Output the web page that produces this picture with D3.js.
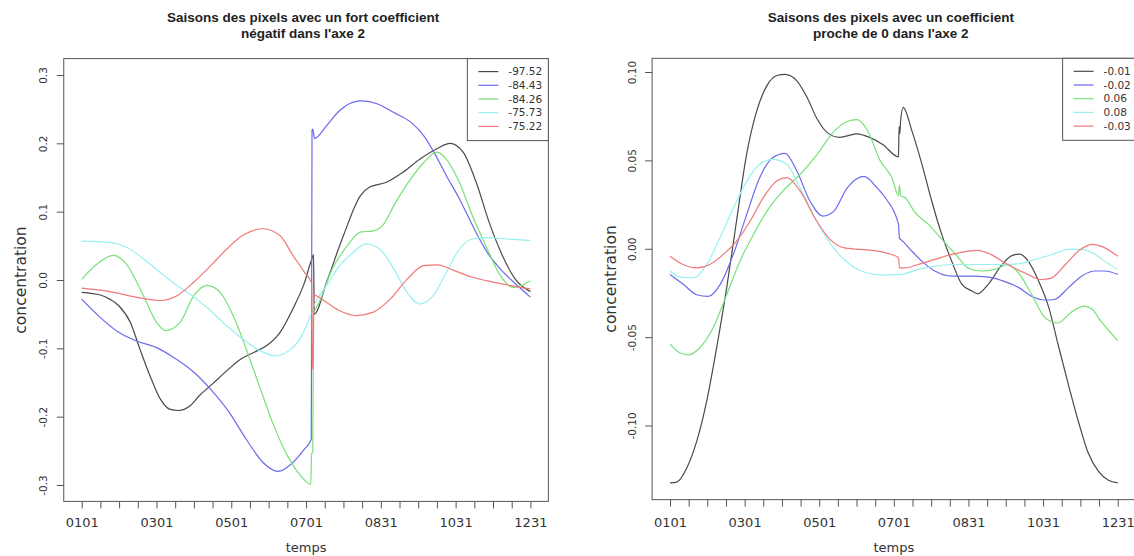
<!DOCTYPE html>
<html>
<head>
<meta charset="utf-8">
<script src="https://cdn.jsdelivr.net/npm/d3@7"></script>
<style>
  html, body { margin: 0; padding: 0; background: #fff; }
  svg { display: block; }
  text { font-family: "DejaVu Sans", sans-serif; fill: #333; }
</style>
</head>
<body>
<svg id="chart" width="1134" height="556"></svg>
<script>
// Time axis: 25 ticks (index 0..24), labelled every fourth tick
const tickIndex = d3.range(0, 25);
const tickLabels = ["0101", "0301", "0501", "0701", "0831", "1031", "1231"];

// Panel 1: pixels with a strong negative coefficient on axis 2  [tick index, concentration]
const neg97_52 = [[0,-0.018],[1,-0.022],[1.5,-0.028],[2,-0.038],[2.6,-0.062],[3.1,-0.10],[3.65,-0.14],[4.2,-0.174],[4.7,-0.189],[5.17,-0.191],[5.8,-0.184],[6.3,-0.169],[7.0,-0.152],[7.75,-0.133],[8.5,-0.116],[9.2,-0.106],[9.9,-0.096],[10.6,-0.077],[11.3,-0.042],[11.9,-0.005],[12.3,0.030],[12.4,0.037],[12.44,-0.050],[13.1,-0.003],[14.0,0.065],[14.9,0.123],[15.4,0.136],[16.3,0.143],[17.2,0.158],[18.1,0.177],[19.0,0.192],[19.7,0.200],[20.4,0.187],[21.1,0.143],[21.8,0.084],[22.5,0.036],[23.2,0.001],[24,-0.017]];
const neg84_43 = [[0,-0.028],[1,-0.055],[2,-0.077],[2.9,-0.089],[4,-0.099],[4.9,-0.113],[6,-0.135],[6.9,-0.160],[7.9,-0.194],[8.8,-0.233],[9.7,-0.267],[10.5,-0.280],[11.3,-0.267],[11.9,-0.248],[12.28,-0.233],[12.32,0.219],[12.36,0.221],[12.45,0.207],[13.1,0.226],[13.8,0.248],[14.5,0.260],[15.0,0.262],[15.8,0.258],[16.7,0.245],[17.6,0.231],[18.3,0.211],[18.8,0.189],[19.5,0.153],[20.2,0.119],[20.9,0.080],[21.7,0.040],[22.4,0.016],[23.1,-0.003],[24,-0.025]];
const neg84_26 = [[0,0.001],[0.8,0.023],[1.7,0.036],[2.4,0.023],[3.3,-0.023],[4,-0.062],[4.5,-0.074],[5.26,-0.062],[6,-0.023],[6.7,-0.008],[7.4,-0.018],[8.1,-0.052],[8.8,-0.101],[9.5,-0.155],[10.2,-0.208],[11,-0.257],[11.7,-0.286],[12.25,-0.299],[12.3,-0.255],[12.36,-0.25],[12.4,-0.05],[12.7,-0.033],[13.4,0.016],[14.2,0.050],[14.9,0.070],[15.6,0.072],[16.1,0.080],[16.8,0.114],[17.6,0.148],[18.3,0.172],[19.0,0.187],[19.5,0.177],[20.2,0.143],[20.9,0.094],[21.7,0.045],[22.4,0.006],[23.1,-0.011],[24,-0.001]];
const neg75_73 = [[0,0.057],[1.5,0.055],[2.4,0.048],[3.3,0.031],[4.2,0.011],[5.1,-0.008],[6,-0.025],[6.9,-0.045],[7.75,-0.067],[8.6,-0.086],[9.5,-0.103],[10.4,-0.111],[11.1,-0.103],[11.7,-0.085],[12.2,-0.055],[12.5,-0.033],[13.1,-0.008],[13.8,0.021],[14.5,0.040],[15.2,0.053],[15.95,0.045],[16.7,0.016],[17.4,-0.018],[18.1,-0.035],[18.8,-0.023],[19.5,0.011],[20.2,0.045],[20.9,0.060],[21.7,0.062],[22.7,0.060],[24,0.058]];
const neg75_22 = [[0,-0.012],[1.5,-0.017],[2.9,-0.025],[4.2,-0.030],[5.1,-0.023],[6,-0.003],[6.9,0.021],[7.75,0.045],[8.6,0.065],[9.7,0.075],[10.6,0.065],[11.3,0.036],[11.9,0.012],[12.3,-0.005],[12.34,-0.130],[12.38,-0.130],[12.42,-0.022],[13.1,-0.033],[13.8,-0.045],[14.7,-0.052],[15.6,-0.047],[16.5,-0.028],[17.4,0.001],[18.3,0.021],[19.0,0.022],[19.9,0.014],[20.9,0.004],[22.0,-0.003],[23.1,-0.009],[24,-0.013]];

// Panel 2: pixels with a coefficient close to 0 on axis 2
const near_m001 = [[0,-0.1325],[0.36,-0.132],[0.9,-0.124],[1.43,-0.109],[1.97,-0.086],[2.5,-0.056],[3.04,-0.022],[3.57,0.016],[4.1,0.053],[4.65,0.078],[5.18,0.092],[5.72,0.098],[6.17,0.0987],[6.8,0.095],[7.33,0.086],[7.86,0.074],[8.4,0.066],[9.1,0.063],[10.0,0.065],[10.7,0.063],[11.4,0.059],[12.25,0.052],[12.28,0.069],[12.32,0.065],[12.36,0.072],[12.5,0.080],[12.96,0.067],[13.5,0.048],[14.03,0.027],[14.57,0.008],[15.1,-0.007],[15.64,-0.020],[16.2,-0.024],[16.5,-0.0255],[17.07,-0.020],[17.8,-0.009],[18.3,-0.004],[18.77,-0.003],[19.2,-0.007],[19.75,-0.018],[20.3,-0.033],[20.8,-0.054],[21.36,-0.077],[21.9,-0.098],[22.4,-0.115],[22.97,-0.126],[23.5,-0.131],[24,-0.1325]];
const near_m002 = [[0,-0.0145],[0.7,-0.020],[1.43,-0.026],[2.05,-0.027],[2.7,-0.020],[3.4,-0.003],[4.1,0.019],[4.8,0.040],[5.5,0.0515],[6.17,0.054],[6.8,0.044],[7.5,0.027],[8.2,0.0185],[8.76,0.021],[9.5,0.0345],[10.4,0.041],[11.1,0.0345],[11.6,0.028],[12.25,0.0138],[12.3,0.006],[12.4,0.005],[12.5,0.004],[12.96,-0.0013],[13.5,-0.007],[14.2,-0.0126],[15.1,-0.0155],[16.2,-0.0155],[17.07,-0.016],[17.8,-0.018],[18.7,-0.022],[19.4,-0.027],[20.1,-0.029],[20.6,-0.0287],[21.36,-0.022],[22.06,-0.0155],[22.8,-0.0126],[23.3,-0.0126],[24,-0.0145]];
const near_006 = [[0,-0.054],[0.54,-0.059],[1.0,-0.060],[1.6,-0.056],[2.3,-0.045],[3.04,-0.026],[3.75,-0.007],[4.47,0.008],[5.18,0.021],[6.08,0.033],[6.97,0.042],[7.86,0.053],[8.76,0.066],[9.5,0.072],[10.0,0.073],[10.55,0.0676],[11.26,0.050],[11.9,0.040],[12.25,0.030],[12.3,0.036],[12.36,0.030],[12.6,0.029],[13.1,0.021],[13.85,0.0138],[14.57,0.0053],[15.3,-0.003],[16.0,-0.011],[16.7,-0.0126],[17.4,-0.0117],[18.1,-0.009],[18.6,-0.0126],[19.4,-0.026],[20.1,-0.039],[20.8,-0.042],[21.5,-0.036],[22.2,-0.0325],[22.6,-0.034],[23.1,-0.041],[24,-0.052]];
const near_008 = [[0,-0.0126],[0.54,-0.016],[1.25,-0.0164],[1.97,-0.0089],[2.68,0.0062],[3.4,0.023],[4.1,0.038],[4.8,0.0478],[5.5,0.0506],[6.26,0.0478],[6.97,0.0345],[7.86,0.0157],[8.76,0.0006],[9.65,-0.0089],[10.55,-0.0136],[11.4,-0.0149],[12.4,-0.0145],[13.3,-0.0117],[14.2,-0.0098],[15.1,-0.0089],[16.0,-0.0089],[16.9,-0.0089],[17.8,-0.0089],[18.7,-0.0085],[19.6,-0.006],[20.5,-0.0032],[21.36,-0.0004],[22.06,-0.0004],[22.8,-0.0032],[23.3,-0.007],[24,-0.0117]];
const near_m003 = [[0,-0.0042],[0.7,-0.0089],[1.43,-0.0108],[2.14,-0.0089],[2.86,-0.0032],[3.57,0.0043],[4.3,0.0157],[5.0,0.0289],[5.72,0.0383],[6.26,0.0402],[6.97,0.0327],[7.86,0.0157],[8.58,0.0053],[9.3,0.0006],[10.2,-0.0004],[11.1,-0.0013],[11.8,-0.003],[12.25,-0.0051],[12.3,-0.0108],[12.6,-0.0108],[13.3,-0.0089],[14.2,-0.006],[15.1,-0.0032],[16.0,-0.0013],[16.5,-0.0009],[17.2,-0.0032],[18.1,-0.0089],[19.0,-0.0136],[19.9,-0.0174],[20.4,-0.0168],[21.2,-0.0089],[21.9,-0.0013],[22.6,0.0025],[23.1,0.0015],[24,-0.0042]];

const legendLeft = ["-97.52", "-84.43", "-84.26", "-75.73", "-75.22"];
const legendRight = ["-0.01", "-0.02", "0.06", "0.08", "-0.03"];
const yTicksLeft = [-0.3, -0.2, -0.1, 0.0, 0.1, 0.2, 0.3];
const yTicksRight = [-0.10, -0.05, 0.00, 0.05, 0.10];
const seriesColors = ["#4a4a4a", "#6a6aee", "#78e078", "#98f0f0", "#f07878"];

const svg = d3.select("#chart");
const axisColor = "#555";

function drawPanel(cfg) {
  const g = svg.append("g");
  const x = d3.scaleLinear().domain([0, 24]).range(cfg.xRange);
  const y = d3.scaleLinear().domain(cfg.yDomain).range(cfg.yRange);

  // plot frame (4% extension of the data region on each side)
  const xPad = 0.04 * 24;
  const yPad = 0.04 * (cfg.yLim[1] - cfg.yLim[0]);
  const bx0 = x(-xPad), bx1 = x(24 + xPad);
  const by0 = y(cfg.yLim[1] + yPad), by1 = y(cfg.yLim[0] - yPad);

  // series
  const line = d3.line()
    .x(d => x(d[0]))
    .y(d => y(d[1]))
    .curve(d3.curveMonotoneX);
  cfg.series.forEach((s, k) => {
    g.append("path")
      .attr("d", line(s))
      .attr("fill", "none")
      .attr("stroke", seriesColors[k])
      .attr("stroke-width", 1.2)
      .attr("stroke-linejoin", "round");
  });

  g.append("rect")
    .attr("x", bx0).attr("y", by0)
    .attr("width", bx1 - bx0).attr("height", by1 - by0)
    .attr("fill", "none").attr("stroke", axisColor).attr("stroke-width", 1);

  // x axis
  const xAxis = d3.axisBottom(x)
    .tickValues(tickIndex)
    .tickSize(7)
    .tickFormat(i => (i % 4 === 0 ? tickLabels[i / 4] : ""));
  const gx = g.append("g").attr("transform", `translate(0,${by1})`).call(xAxis);
  gx.select(".domain").remove();
  gx.selectAll(".tick line").attr("stroke", axisColor);
  gx.selectAll(".tick text")
    .attr("fill", "#333")
    .style("font-family", '"DejaVu Sans", sans-serif')
    .style("font-size", "13px")
    .attr("y", 0).attr("dy", 0)
    .attr("transform", `translate(0,${cfg.xLabelBase - by1})`);

  // y axis
  const yAxis = d3.axisLeft(y)
    .tickValues(cfg.yTicks)
    .tickSize(7)
    .tickFormat(v => v.toFixed(cfg.yDigits));
  const gy = g.append("g").attr("transform", `translate(${bx0},0)`).call(yAxis);
  gy.select(".domain").remove();
  gy.selectAll(".tick line").attr("stroke", axisColor);
  gy.selectAll(".tick text")
    .attr("fill", "#333")
    .style("font-family", '"DejaVu Sans", sans-serif')
    .style("font-size", "10.5px")
    .attr("x", 0).attr("dy", 0)
    .attr("text-anchor", "middle")
    .attr("transform", `translate(${cfg.yLabelX - bx0},0) rotate(-90) translate(0,4)`);

  // axis titles
  g.append("text")
    .attr("x", x(12))
    .attr("y", 552)
    .attr("text-anchor", "middle")
    .style("font-size", "13px")
    .text("temps");
  g.append("text")
    .attr("transform", `translate(${cfg.yTitleX},${(by0 + by1) / 2}) rotate(-90)`)
    .attr("dy", "0.35em")
    .attr("text-anchor", "middle")
    .style("font-size", "15.5px")
    .text("concentration");

  // title
  const title = g.append("text")
    .attr("text-anchor", "middle")
    .style("font-family", '"Liberation Sans", Arial, sans-serif')
    .style("font-size", "13.5px")
    .style("font-weight", "bold")
    .style("fill", "#222");
  cfg.title.forEach((t, k) => {
    title.append("tspan").attr("x", (bx0 + bx1) / 2 - 3).attr("y", 22 + 16 * k).text(t);
  });

  // legend (top right)
  const lw = cfg.legendWidth, lh = 82;
  const lx = bx1 - lw, ly = by0;
  g.append("rect")
    .attr("x", lx).attr("y", ly).attr("width", lw).attr("height", lh)
    .attr("fill", "#fff").attr("stroke", axisColor).attr("stroke-width", 1);
  cfg.legend.forEach((lab, k) => {
    const yy = ly + 13 + k * 13.7;
    g.append("line")
      .attr("x1", lx + 11).attr("x2", lx + 31)
      .attr("y1", yy).attr("y2", yy)
      .attr("stroke", seriesColors[k]).attr("stroke-width", 1.2);
    g.append("text")
      .attr("x", lx + cfg.legendTextDx).attr("y", yy)
      .attr("dy", "0.35em")
      .style("font-size", "10.5px")
      .text(lab);
  });
}

drawPanel({
  xRange: [81.7, 530.4],
  yDomain: [-0.3, 0.3], yRange: [485, 75], yLim: [-0.3, 0.3],
  yTicks: yTicksLeft, yDigits: 1,
  xLabelBase: 527, yLabelX: 43, yTitleX: 21,
  series: [neg97_52, neg84_43, neg84_26, neg75_73, neg75_22],
  legend: legendLeft, legendWidth: 81, legendTextDx: 41,
  title: ["Saisons des pixels avec un fort coefficient", "négatif dans l'axe 2"]
});

drawPanel({
  xRange: [670, 1117.7],
  yDomain: [-0.10, 0.10], yRange: [425.5, 72], yLim: [-0.1327, 0.0985],
  yTicks: yTicksRight, yDigits: 2,
  xLabelBase: 527, yLabelX: 632, yTitleX: 611,
  series: [near_m001, near_m002, near_006, near_008, near_m003],
  legend: legendRight, legendWidth: 73, legendTextDx: 41,
  title: ["Saisons des pixels avec un coefficient", "proche de 0 dans l'axe 2"]
});
</script>
</body>
</html>
